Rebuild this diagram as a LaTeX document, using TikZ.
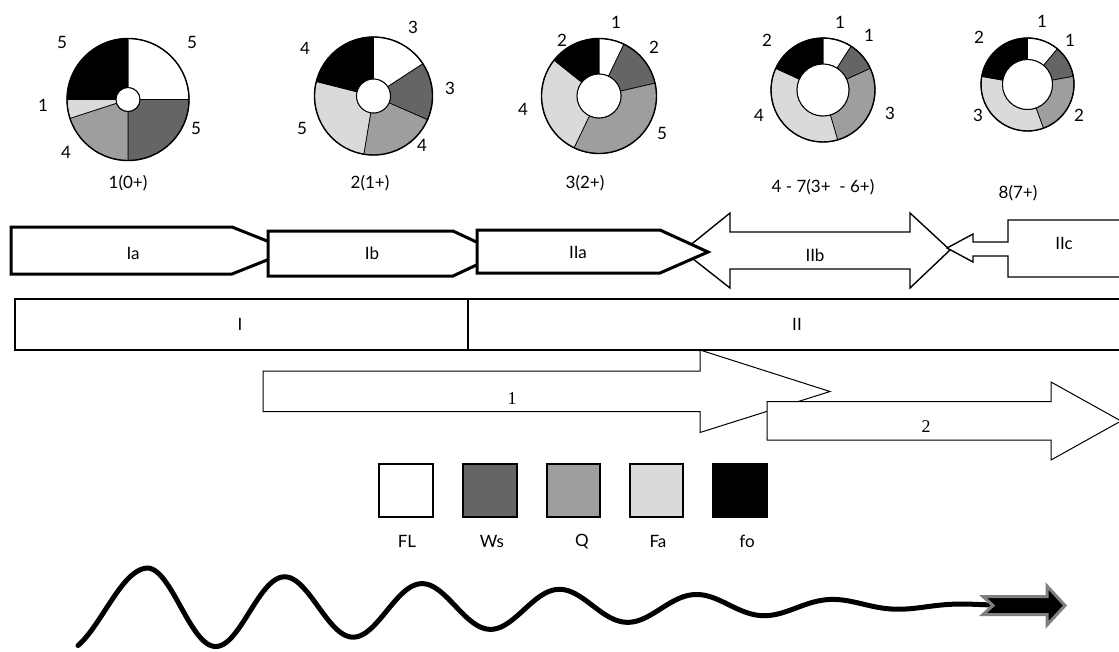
\documentclass[tikz,border=0pt]{standalone}
\usepackage{fontspec}
\setmainfont{Lato}
\newfontfamily\serifnum{Liberation Serif}
\usetikzlibrary{calc}
\definecolor{cWs}{HTML}{656565}
\definecolor{cQ}{HTML}{9E9E9E}
\definecolor{cFa}{HTML}{DADADA}
\definecolor{cEdge}{HTML}{808080}
\tikzset{
  lab/.style={font=\fontsize{17}{20}\selectfont, inner sep=0pt, anchor=center},
  serlab/.style={font=\serifnum\fontsize{18}{20}\selectfont, inner sep=0pt, anchor=center},
  thickarrow/.style={draw=black, fill=white, line width=3pt, line join=miter},
  thinarrow/.style={draw=black, fill=white, line width=1.4pt, line join=miter},
  bararrow/.style={draw=black, fill=white, line width=1pt, line join=miter},
  legbox/.style={draw=black, line width=1.2pt},
}
\newcommand\donut[5]{%
  \xdef\dacc{0}%
  \foreach \dval/\dcol in {#5}{%
    \pgfmathsetmacro\aS{90-\dacc*360/#4}%
    \pgfmathsetmacro\aE{90-(\dacc+\dval)*360/#4}%
    \filldraw[fill=\dcol,draw=black,line width=0.7pt]
      ($(#1)+(\aS:#2)$) arc[start angle=\aS,end angle=\aE,radius=#2]
      -- ($(#1)+(\aE:#3)$) arc[start angle=\aE,end angle=\aS,radius=#3] -- cycle;
    \pgfmathsetmacro\dtmp{\dacc+\dval}%
    \xdef\dacc{\dtmp}%
  }%
  \draw[line width=1.4pt] (#1) circle[radius=#2];
  \draw[line width=1pt, fill=white] (#1) circle[radius=#3];
}
\begin{document}
\begin{tikzpicture}[x=1pt,y=-1pt]
\useasboundingbox (0,0) rectangle (1119,651);
\clip (0,0) rectangle (1119,651);

% ---------- donuts ----------
\coordinate (P1) at (128,99.5);
\donut{P1}{61pt}{12pt}{20}{5/white,5/cWs,4/cQ,1/cFa,5/black}
\node[lab] (p1a) at (62,42) {5};
\node[lab] (p1b) at (192,42) {5};
\node[lab] (p1c) at (43,105) {1};
\node[lab] (p1d) at (196,128) {5};
\node[lab] (p1e) at (66,152) {4};
\node[lab] (p1t) at (128,183) {1(0+)};

\coordinate (P2) at (373.5,96);
\donut{P2}{59pt}{17pt}{19}{3/white,3/cWs,4/cQ,5/cFa,4/black}
\node[lab] (p2a) at (413,27) {3};
\node[lab] (p2b) at (450,88) {3};
\node[lab] (p2c) at (422,145) {4};
\node[lab] (p2d) at (302,128) {5};
\node[lab] (p2e) at (305,48) {4};
\node[lab] (p2t) at (370,183) {2(1+)};

\coordinate (P3) at (599,96);
\donut{P3}{57.5pt}{22pt}{14}{1/white,2/cWs,5/cQ,4/cFa,2/black}
\node[lab] (p3a) at (616,22) {1};
\node[lab] (p3b) at (654,47) {2};
\node[lab] (p3c) at (662,133) {5};
\node[lab] (p3d) at (523,109) {4};
\node[lab] (p3e) at (562,40) {2};
\node[lab] (p3t) at (585,183) {3(2+)};

\coordinate (P4) at (823,90);
\donut{P4}{52pt}{26pt}{11}{1/white,1/cWs,3/cQ,4/cFa,2/black}
\node[lab] (p4a) at (840,22) {1};
\node[lab] (p4b) at (869,35) {1};
\node[lab] (p4c) at (890,113) {3};
\node[lab] (p4d) at (759,115) {4};
\node[lab] (p4e) at (767,40) {2};
\node[lab] (p4t) at (823,187) {4 - 7(3+ \ - 6+)};

\coordinate (P5) at (1027.5,84.5);
\donut{P5}{46.5pt}{25pt}{9}{1/white,1/cWs,2/cQ,3/cFa,2/black}
\node[lab] (p5a) at (1042,21) {1};
\node[lab] (p5b) at (1070,40) {1};
\node[lab] (p5c) at (1079,115) {2};
\node[lab] (p5d) at (978,115) {3};
\node[lab] (p5e) at (979,37) {2};
\node[lab] (p5t) at (1018,193) {8(7+)};

% ---------- phase arrows ----------
\draw[thinarrow] (683,251) -- (730,213) -- (730,232) -- (910,232) -- (910,213)
  -- (950,250) -- (910,288) -- (910,269) -- (730,269) -- (730,288) -- cycle;
\draw[thinarrow] (1130,220) -- (1008,220) -- (1008,242) -- (973,242) -- (973,234)
  -- (947,248) -- (973,262) -- (973,256) -- (1008,256) -- (1008,277) -- (1130,277);
\draw[thickarrow] (11,227) -- (232,227) -- (291,250.5) -- (232,274) -- (11,274) -- cycle;
\draw[thickarrow] (268,231) -- (453,231) -- (501,253.5) -- (453,276) -- (268,276) -- cycle;
\draw[thickarrow] (477,230) -- (660,230) -- (708,252) -- (660,273) -- (477,273) -- cycle;
\node[lab] (Ia) at (133,253) {Ia};
\node[lab] (Ib) at (372,253) {Ib};
\node[lab] (IIa) at (578,252) {IIa};
\node[lab] (IIb) at (815,255) {IIb};
\node[lab] (IIc) at (1064,243) {IIc};

% ---------- stage bar ----------
\draw[line width=1.3pt] (15,299) rectangle (1130,350);
\draw[line width=1.3pt] (468,299) -- (468,350);
\node[lab] (I) at (240,324) {I};
\node[lab] (II) at (797,324) {II};

% ---------- arrows 1 and 2 ----------
\draw[bararrow] (263,371) -- (700,371) -- (700,350) -- (830,391.5) -- (700,432.5)
  -- (700,411.5) -- (263,411.5) -- cycle;
\draw[bararrow] (767,401.5) -- (1051,401.5) -- (1051,382) -- (1121,421) -- (1051,460)
  -- (1051,440) -- (767,440) -- cycle;
\node[serlab] (n1) at (512,399) {1};
\node[serlab] (n2) at (926,427) {2};

% ---------- legend ----------
\draw[legbox, fill=white] (379,464) rectangle (433,517);
\draw[legbox, fill=cWs] (463,464) rectangle (517,517);
\draw[legbox, fill=cQ] (547,464) rectangle (600,517);
\draw[legbox, fill=cFa] (630,464) rectangle (683,517);
\draw[legbox, fill=black] (713,464) rectangle (767,517);
\node[lab] (lFL) at (407,541) {FL};
\node[lab] (lWs) at (492,541) {Ws};
\node[lab] (lQ) at (582,542) {Q};
\node[lab] (lFa) at (658,541) {Fa};
\node[lab] (lfo) at (747,541) {fo};

% ---------- wave ----------
\draw[line width=5pt, line cap=round, line join=round]
  plot[domain=78:990, samples=400, smooth]
  (\x, {610 - 5*(\x-148)/837 - (\x<148 ? 42 : 42*exp(-(\x-148)/530)*(1-((\x-148)/845)^4))*sin(2.61818*(\x-148)*(\x<148 ? 0.8 : 1) + 90)});
\draw[draw=cEdge, fill=black, line width=3pt, line join=miter]
  (983,596.5) -- (1047,596.5) -- (1047,586) -- (1065,605.5) -- (1047,625)
  -- (1047,614.5) -- (983,614.5) -- (993,605.5) -- cycle;
\end{tikzpicture}
\end{document}
